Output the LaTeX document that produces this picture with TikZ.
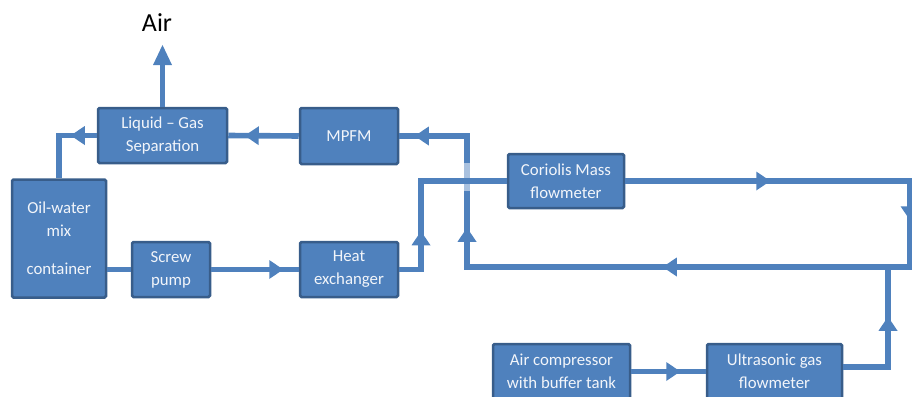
\documentclass[tikz,border=0pt]{standalone}
\usepackage{fontspec}
\setmainfont{Carlito}
\usetikzlibrary{arrows.meta,decorations.markings}
\definecolor{pipe}{HTML}{4F81BD}
\definecolor{boxfill}{HTML}{4F81BD}
\definecolor{boxline}{HTML}{385D8A}
\definecolor{fadeblue}{HTML}{A9C1DF}
\definecolor{txt}{HTML}{F2F5FA}
\pgfkeys{/pgf/decoration/marr/.style={mark=at position #1 with {\arrow{Triangle[width=19pt,length=14pt,line width=0pt]}}}}
\begin{document}
\begin{tikzpicture}[x=1pt,y=-1pt,
  box/.style={draw=boxline, fill=boxfill, line width=2.5pt, rounded corners=1.5pt,
    text=txt, font=\fontsize{16.8}{23}\selectfont, align=center, inner sep=0pt},
  pipe/.style={line width=5.6pt, color=pipe},
  arr/.style={pipe, postaction={decorate}, decoration={markings, #1}}
]
\useasboundingbox (0,0) rectangle (912,396);
\clip (0,0) rectangle (912,396);

% nodes
\node[box, minimum width=129pt, minimum height=55pt] (sep) at (162.5,135.5) {Liquid -- Gas\\Separation};
\node[box, minimum width=98pt, minimum height=56pt] (mpfm) at (349,136) {MPFM};
\node[box, minimum width=94pt, minimum height=118pt] (oil) at (59,238.5) {Oil-water\\mix\\[15pt]container};
\node[box, minimum width=78pt, minimum height=55pt] (pump) at (171,269.5) {Screw\\pump};
\node[box, minimum width=98pt, minimum height=55pt] (hx) at (349,269.5) {Heat\\exchanger};
\node[box, minimum width=116pt, minimum height=54pt] (cor) at (566,181) {Coriolis Mass\\flowmeter};
\node[box, minimum width=137pt, minimum height=55pt] (comp) at (561.5,371.5) {Air compressor\\with buffer tank};
\node[box, minimum width=135pt, minimum height=55pt] (ult) at (774.5,371.5) {Ultrasonic gas\\flowmeter};
\node[font=\fontsize{26}{30}\selectfont, text=black, inner sep=0pt] (air) at (157,22.5) {Air};

% coordinates
\coordinate (airtip) at (162.5,45);
\coordinate (rtop) at (910,181);
\coordinate (rbot) at (910,267);
\coordinate (lbot) at (467,267);
\coordinate (ltop) at (467,136);
\coordinate (hxx) at (421,0);
\coordinate (ux) at (888,267);
\coordinate (f1) at (467,163);
\coordinate (f2) at (467,191);

% connectors
\draw[pipe, -{Triangle[width=19pt,length=20pt,line width=0pt]}] (sep.north) -- (airtip);
\draw[arr={marr=26pt}] (sep.west) -| (oil.north);
\draw[arr={marr=54pt}] (mpfm.west) -- (sep.east);
\draw[arr={marr=145pt, marr=324pt, marr=618pt, marr=853pt, marr=997pt}]
  (cor.east) -- (rtop) -- (rbot) -- (lbot) -- (ltop) -- (mpfm.east);
\draw[line width=5.6pt, fadeblue] (f1) -- (f2);
\draw[pipe] (oil.east |- pump.west) -- (pump.west);
\draw[arr={marr=72pt}] (pump.east) -- (hx.west);
\draw[arr={marr=60pt}] (hx.east) -| (hxx |- cor.west) -- (cor.west);
\draw[arr={marr=49pt}] (comp.east) -- (ult.west);
\draw[arr={marr=95pt}] ([yshift=4.5pt]ult.east) -| (ux);
\end{tikzpicture}
\end{document}
